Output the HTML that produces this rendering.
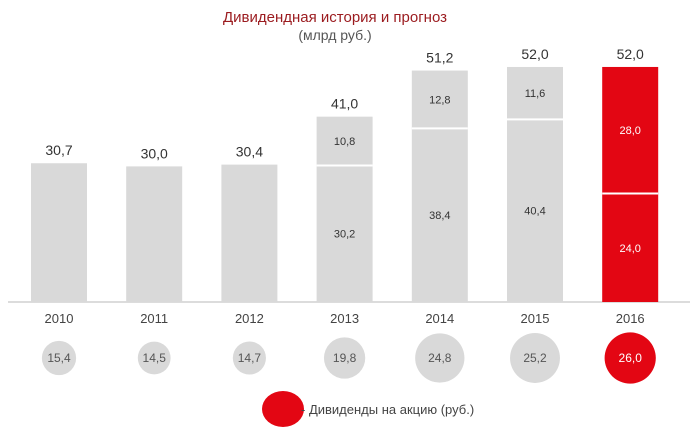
<!DOCTYPE html>
<html><head><meta charset="utf-8"><style>
body{margin:0;background:#fff}
svg{display:block;font-family:"Liberation Sans",sans-serif}
</style></head><body>
<svg id="c" width="695" height="434">
<text x="335" y="22" text-anchor="middle" font-size="15" fill="#9b1b1f">Дивидендная история и прогноз</text>
<text x="335" y="40" text-anchor="middle" font-size="14" fill="#555">(млрд руб.)</text>
<line x1="8" y1="302" x2="690" y2="302" stroke="#d0d0d0" stroke-width="1.5"/>
<ellipse cx="283" cy="409" rx="21" ry="18" fill="#e30613"/>
<text x="301" y="414" font-size="13" fill="#444">- Дивиденды на акцию (руб.)</text>
</svg>
<script>
const years=["2010","2011","2012","2013","2014","2015","2016"];
const bottomVals=[30.7,30.0,30.4,30.2,38.4,40.4,24.0];
const topVals=[0,0,0,10.8,12.8,11.6,28.0];
const totals=["30,7","30,0","30,4","41,0","51,2","52,0","52,0"];
const perShare=[15.4,14.5,14.7,19.8,24.8,25.2,26.0];
const svg=document.getElementById('c');
const NS='http://www.w3.org/2000/svg';
const base=302,scale=4.52,x0=59,step=95.2,bw=56;
const fmt=v=>v.toFixed(1).replace('.',',');
function mk(tag,attrs,txt){const e=document.createElementNS(NS,tag);for(const k in attrs)e.setAttribute(k,attrs[k]);if(txt!==undefined)e.textContent=txt;svg.appendChild(e);return e;}
const y=v=>base-v*scale;
years.forEach((yr,i)=>{
  const cx=x0+i*step, fc=i===6?'#e30613':'#d9d9d9', tc=i===6?'#fff':'#333';
  const yb=y(bottomVals[i]);
  let e=mk('rect',{x:cx-bw/2,y:yb,width:bw,height:base-yb,fill:fc});
  
  
  let top=yb;
  if(topVals[i]>0){
    const yt=y(bottomVals[i]+topVals[i]);
    e=mk('rect',{x:cx-bw/2,y:yt,width:bw,height:yb-yt,fill:fc});
    
    
    e=mk('line',{x1:cx-bw/2,x2:cx+bw/2,y1:yb,y2:yb,stroke:'#fff','stroke-width':2});
    
    
    e=mk('text',{x:cx,y:(yt+yb)/2+4,'text-anchor':'middle','font-size':11,fill:tc},fmt(topVals[i]));
    
    
    e=mk('text',{x:cx,y:(yb+base)/2+4,'text-anchor':'middle','font-size':11,fill:tc},fmt(bottomVals[i]));
    
    
    top=yt;
  }
  e=mk('text',{x:cx,y:top-8,'text-anchor':'middle','font-size':14,fill:'#333'},totals[i]);
  
  
  e=mk('text',{x:cx,y:323,'text-anchor':'middle','font-size':13,fill:'#444'},yr);
  
  
  const r=0.8*perShare[i]+4.8;
  e=mk('circle',{cx:cx,cy:358,r:r,fill:fc});
  
  
  e=mk('text',{x:cx,y:362,'text-anchor':'middle','font-size':12,fill:i===6?'#fff':'#555'},fmt(perShare[i]));
  
  
});
</script>
</body></html>
